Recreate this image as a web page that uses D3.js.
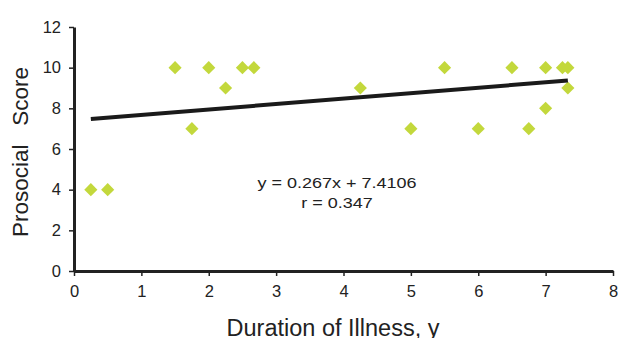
<!DOCTYPE html>
<html>
<head>
<meta charset="utf-8">
<script src="https://cdn.jsdelivr.net/npm/d3@7"></script>
<style>
  body { margin: 0; background: #fff; }
  text { font-family: "Liberation Sans", Arial, sans-serif; fill: #222; }
</style>
</head>
<body>
<script>
// data
var durations = [0.25, 0.5, 1.5, 1.75, 2, 2.25, 2.5, 2.67, 4.25, 5, 5.5, 6, 6.5, 6.75, 7, 7, 7.25, 7.33, 7.33];
var scores    = [4,    4,   10,  7,    10, 9,    10,  10,   9,    7, 10,  7, 10,  7,    10, 8, 10,   10,   9];
var xTicks = [0, 1, 2, 3, 4, 5, 6, 7, 8];
var yTicks = [0, 2, 4, 6, 8, 10, 12];
var slope = 0.267, intercept = 7.4106;
var eqLabel = "y = 0.267x + 7.4106";
var rLabel = "r = 0.347";

var width = 618, height = 338;
var plotLeft = 74, plotRight = 613, plotTop = 27, plotBottom = 271;

var svg = d3.select("body").append("svg")
    .attr("width", width)
    .attr("height", height);

var x = d3.scaleLinear().domain([0, 8]).range([plotLeft, plotRight]);
var y = d3.scaleLinear().domain([0, 12]).range([plotBottom, plotTop]);

// axes
var xAxis = svg.append("g")
    .attr("transform", "translate(0," + plotBottom + ")")
    .call(d3.axisBottom(x).tickValues(xTicks).tickSize(5).tickPadding(9).tickSizeOuter(0));
var yAxis = svg.append("g")
    .attr("transform", "translate(" + plotLeft + ",0)")
    .call(d3.axisLeft(y).tickValues(yTicks).tickSize(5).tickPadding(8).tickSizeOuter(0));

[xAxis, yAxis].forEach(function(a) {
  a.select(".domain").attr("stroke", "#222").attr("stroke-width", 3);
  a.selectAll(".tick line").attr("stroke", "#222").attr("stroke-width", 1.5);
  a.selectAll(".tick text").style("font-size", "16.5px").attr("fill", "#222");
});

// points
var pts = durations.map(function(d, i) { return [d, scores[i]]; });
svg.append("g").selectAll("path")
    .data(pts)
    .enter()
    .append("path")
    .attr("d", d3.symbol().type(d3.symbolDiamond2).size(110))
    .attr("transform", function(d) { return "translate(" + x(d[0]) + "," + y(d[1]) + ")"; })
    .attr("fill", "#c3d83c");

// trend line across the data range
var x0 = d3.min(durations), x1 = d3.max(durations);
svg.append("line")
    .attr("x1", x(x0)).attr("y1", y(slope * x0 + intercept))
    .attr("x2", x(x1)).attr("y2", y(slope * x1 + intercept))
    .attr("stroke", "#1a1a1a")
    .attr("stroke-width", 4);

// equation (a little stretched sideways, like the source image)
var eq = svg.append("g").attr("transform", "translate(337,0) scale(1.2,1)");
eq.append("text")
    .attr("x", 0).attr("y", 188)
    .attr("text-anchor", "middle")
    .style("font-size", "15px")
    .text(eqLabel);
eq.append("text")
    .attr("x", 0).attr("y", 208)
    .attr("text-anchor", "middle")
    .style("font-size", "15px")
    .text(rLabel);

// axis titles
svg.append("text")
    .attr("x", 333).attr("y", 336)
    .attr("text-anchor", "middle")
    .style("font-size", "23.5px")
    .text("Duration of Illness, y");
svg.append("text")
    .attr("transform", "translate(28,152) rotate(-90)")
    .attr("text-anchor", "middle")
    .style("font-size", "22.5px")
    .style("white-space", "pre")
    .text("Prosocial   Score");
</script>
</body>
</html>
